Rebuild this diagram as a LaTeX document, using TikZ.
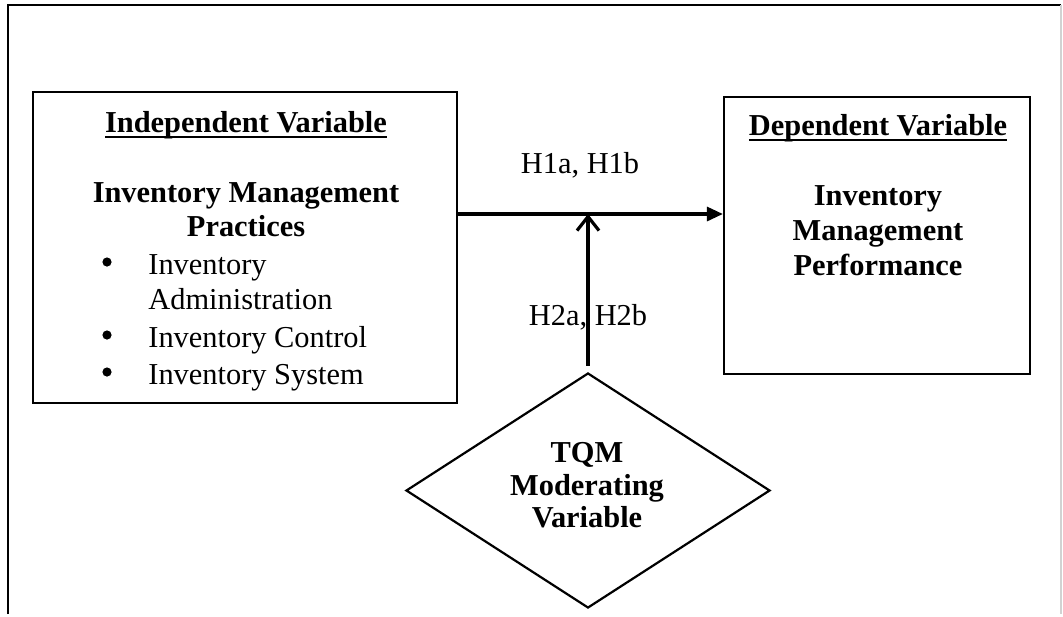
\documentclass[tikz,border=0pt]{standalone}
\usepackage{fontspec}
\setmainfont{Liberation Serif}
\usetikzlibrary{shapes.geometric,arrows.meta}
\newcommand{\thickul}[1]{\setbox0=\hbox{#1}\leavevmode\rlap{\rule[-3.2pt]{\wd0}{1.1pt}}\box0}
\begin{document}
\begin{tikzpicture}[x=0.5pt,y=-0.5pt,
  framel/.style={line width=1pt},
  boxs/.style={draw,line width=1.1pt,inner sep=0pt},
  txt/.style={anchor=base,inner sep=0pt,font=\fontsize{15.2}{18}\selectfont},
  btxt/.style={txt,font=\fontsize{15.2}{18}\selectfont\bfseries},
  bul/.style={fill,circle,inner sep=0pt,minimum size=4.6pt},
  conn/.style={line width=1.6pt}]
\useasboundingbox (0,0) rectangle (1063,616);
% outer frame
\draw[framel] (8,614) -- (8,5) -- (1061,5);
\draw[gray!35,line width=0.8pt] (1061,5) -- (1061,614);
% boxes
\node[boxs,minimum width=212pt,minimum height=155.5pt] (ib) at (245,247.5) {};
\node[boxs,minimum width=153pt,minimum height=138.5pt] (db) at (877,235.5) {};
\node[boxs,diamond,minimum width=182pt,minimum height=117.5pt] (mv) at (588,490.5) {};
% left box text
\node[btxt] (t1) at (246,132) {\thickul{Independent Variable}};
\node[btxt] (t2) at (246,202) {Inventory Management};
\node[btxt] (t3) at (246,236) {Practices};
\node[bul] (b1) at (107,262) {};
\node[txt,anchor=base west] (l1) at (148,274) {Inventory};
\node[txt,anchor=base west] (l2) at (148,309) {Administration};
\node[bul] (b2) at (107,335) {};
\node[txt,anchor=base west] (l3) at (148,347) {Inventory Control};
\node[bul] (b3) at (107,372) {};
\node[txt,anchor=base west] (l4) at (148,384) {Inventory System};
% right box text
\node[btxt] (d1) at (878,135) {\thickul{Dependent Variable}};
\node[btxt] (d2) at (878,205) {Inventory};
\node[btxt] (d3) at (878,240) {Management};
\node[btxt] (d4) at (878,275) {Performance};
% diamond text
\node[btxt] (m1) at (587,462) {TQM};
\node[btxt] (m2) at (587,495) {Moderating};
\node[btxt] (m3) at (587,527) {Variable};
% labels
\node[txt] (h1) at (580,173) {H1a, H1b};
\node[txt] (h2) at (588,325) {H2a, H2b};
% connectors
\coordinate (hy) at (0,214);
\draw[conn,-{Triangle[length=8pt,width=7pt]}] (ib.east |- hy) -- (db.west |- hy);
\draw[conn,-{Straight Barb[length=7pt,width=11pt]},shorten <=3pt] (mv.north) -- (mv.north |- hy);
\end{tikzpicture}
\end{document}
